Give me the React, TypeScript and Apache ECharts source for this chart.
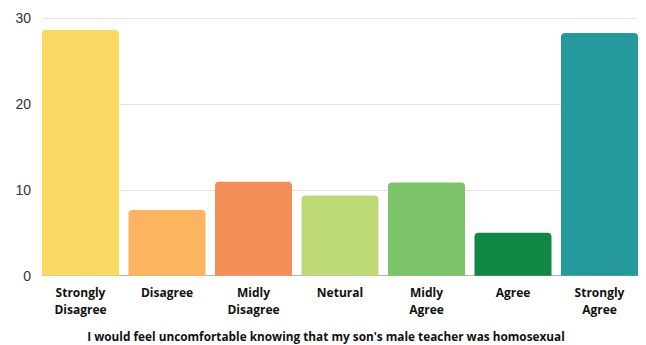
import React, { useEffect, useRef } from "react";
import * as echarts from "echarts";

const categories = [
  "Strongly\nDisagree",
  "Disagree",
  "Midly\nDisagree",
  "Netural",
  "Midly\nAgree",
  "Agree",
  "Strongly\nAgree",
];
const counts = [28.6, 7.65, 10.95, 9.35, 10.85, 5.0, 28.25];
const barColors = ["#F9D962", "#FAB55E", "#F48E58", "#BEDA77", "#7BC468", "#108843", "#249A9E"];
const yTicks = [0, 10, 20, 30];
const caption = "I would feel uncomfortable knowing that my son's male teacher was homosexual";

export default function App() {
  const ref = useRef<HTMLDivElement>(null);

  useEffect(() => {
    if (!ref.current) return;
    const chart = echarts.init(ref.current, null, { renderer: "svg" });
    const plotLeft = 42;
    const plotRight = 8;
    const halfGap = 4.75;
    const top = 18;
    const bottom = 69.3;
    const yMax = yTicks[yTicks.length - 1];

    chart.setOption({
      animation: false,
      backgroundColor: "#ffffff",
      grid: [
        { left: plotLeft, right: plotRight, top, bottom },
        { left: plotLeft - halfGap, right: plotRight - halfGap, top, bottom },
      ],
      xAxis: [
        {
          type: "value",
          gridIndex: 0,
          min: 0,
          max: 1,
          axisLine: { show: true, lineStyle: { color: "#b5b5b5", width: 1 } },
          axisTick: { show: false },
          axisLabel: { show: false },
          splitLine: { show: false },
        },
        {
          type: "category",
          gridIndex: 1,
          data: categories,
          axisLine: { show: false },
          axisTick: { show: false },
          axisLabel: {
            color: "#111111",
            fontFamily: "Open Sans",
            fontWeight: 700,
            fontSize: 12,
            lineHeight: 17,
            margin: 8,
            interval: 0,
          },
        },
      ],
      yAxis: [
        {
          type: "value",
          gridIndex: 0,
          min: 0,
          max: yMax,
          interval: 10,
          axisLine: { show: false },
          axisTick: { show: false },
          axisLabel: {
            color: "#333333",
            fontFamily: "Liberation Sans",
            fontSize: 14,
            margin: 11,
          },
          splitLine: { show: true, lineStyle: { color: "#e2e2e2", width: 1 } },
        },
        {
          type: "value",
          gridIndex: 1,
          min: 0,
          max: yMax,
          show: false,
        },
      ],
      series: [
        {
          type: "bar",
          xAxisIndex: 1,
          yAxisIndex: 1,
          barCategoryGap: "11%",
          data: counts.map((v, i) => ({
            value: v,
            itemStyle: { color: barColors[i], borderRadius: [4, 4, 0, 0] },
          })),
        },
      ],
      graphic: [
        {
          type: "text",
          x: 326,
          y: 336,
          style: {
            text: caption,
            fill: "#111111",
            font: "bold 11.8px 'Open Sans'",
            textAlign: "center",
            textVerticalAlign: "middle",
          },
        },
      ],
    });

    return () => chart.dispose();
  }, []);

  return (
    <div
      ref={ref}
      style={{ position: "absolute", left: 0, top: 0, width: 646, height: 345 }}
    />
  );
}
